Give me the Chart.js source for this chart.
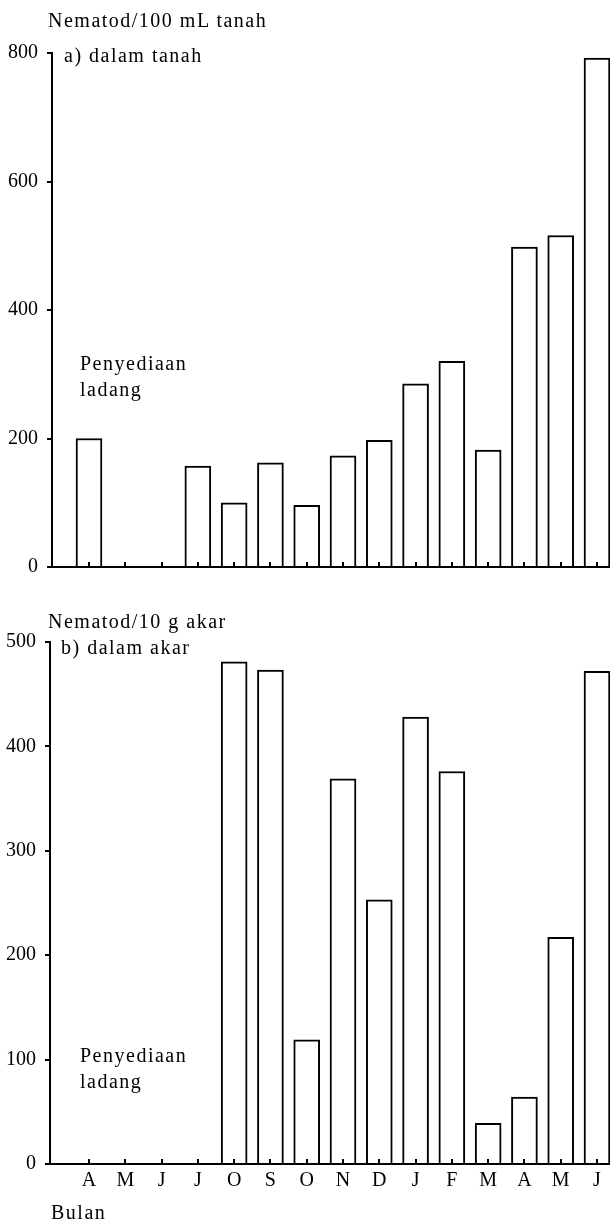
<!DOCTYPE html>
<html>
<head>
<meta charset="utf-8">
<script src="https://cdn.jsdelivr.net/npm/chart.js@4.4.1/dist/chart.umd.min.js"></script>
<style>
  body {
    margin: 0;
    width: 610px;
    height: 1226px;
    position: relative;
    overflow: hidden;
    background: #fff;
    color: #000;
    font-family: "Liberation Serif", "DejaVu Serif", serif;
  }
  .panel { position: absolute; left: 0; width: 610px; }
  .txt {
    position: absolute;
    white-space: nowrap;
    font-size: 20px;
    line-height: 1;
    letter-spacing: 1.5px;
  }
  .note { line-height: 26px; }
</style>
</head>
<body>
<div class="panel" style="top:0;height:600px"><canvas id="soilChart" width="610" height="600"></canvas></div>
<div class="panel" style="top:600px;height:626px"><canvas id="rootChart" width="610" height="626"></canvas></div>

<div class="txt" style="left:48px;top:10px">Nematod/100 mL tanah</div>
<div class="txt" style="left:64px;top:45px">a) dalam tanah</div>
<div class="txt note" style="left:80px;top:350px">Penyediaan<br>ladang</div>

<div class="txt" style="left:48px;top:611px">Nematod/10 g akar</div>
<div class="txt" style="left:61px;top:637px">b) dalam akar</div>
<div class="txt note" style="left:80px;top:1042px">Penyediaan<br>ladang</div>
<div class="txt" style="left:51px;top:1202px">Bulan</div>

<script>
"use strict";

// ? DATA
// ! ========================== ! \\
const months = ["A", "M", "J", "J", "O", "S", "O", "N", "D", "J", "F", "M", "A", "M", "J"];
const soilCounts = [200, null, null, 157, 100, 162, 96, 173, 197, 285, 320, 182, 498, 516, 792];
const rootCounts = [null, null, null, null, 481, 473, 119, 369, 253, 428, 376, 39, 64, 217, 472];
const soilTicks = [0, 200, 400, 600, 800];
const rootTicks = [0, 100, 200, 300, 400, 500];

const FONT = "'Liberation Serif', 'DejaVu Serif', serif";

// small tick marks pointing up into the plot, like the printed figure
const innerTicks = {
  id: "innerTicks",
  afterDraw: (chart) => {
    const { ctx, scales } = chart;
    const x = scales.x;
    ctx.save();
    ctx.strokeStyle = "#000";
    ctx.lineWidth = 2;
    x.ticks.forEach((t) => {
      const px = Math.round(x.getPixelForValue(t.value));
      ctx.beginPath();
      ctx.moveTo(px, x.top);
      ctx.lineTo(px, x.top - 5);
      ctx.stroke();
    });
    ctx.restore();
  },
};

// ? BUILD ONE PANEL
// ! ========================== ! \\
function makePanel(canvasId, values, yTicks, box) {
  const unit = 36.29; // px per month step
  const config = {
    type: "bar",
    data: {
      datasets: [
        {
          data: values.map((v, i) => ({ x: i, y: v })),
          backgroundColor: "#fff",
          borderColor: "#000",
          borderWidth: 2,
          borderSkipped: "bottom",
          barThickness: 26,
        },
      ],
    },
    options: {
      responsive: false,
      animation: false,
      layout: { padding: { top: box.top, left: 0, right: 0, bottom: 0 } },
      plugins: { legend: { display: false }, tooltip: { enabled: false } },
      scales: {
        x: {
          type: "linear",
          offset: false,
          min: -(box.firstTick - box.left) / unit,
          max: 14 + (610 - box.lastTick) / unit,
          afterBuildTicks: (s) => {
            s.ticks = months.map((m, i) => ({ value: i }));
          },
          afterFit: (s) => {
            s.height = box.canvasH - box.bottom;
          },
          grid: { display: true, drawOnChartArea: false, drawTicks: false },
          border: { color: "#000", width: 2 },
          ticks: {
            display: box.showLabels,
            autoSkip: false,
            maxRotation: 0,
            padding: 5,
            color: "#000",
            font: { family: FONT, size: 20 },
            callback: (v) => months[v],
          },
        },
        y: {
          min: yTicks[0],
          max: yTicks[yTicks.length - 1],
          afterBuildTicks: (s) => {
            s.ticks = yTicks.map((v) => ({ value: v }));
          },
          afterFit: (s) => {
            s.width = box.left;
          },
          grid: {
            drawOnChartArea: false,
            drawTicks: true,
            tickLength: 5,
            color: "#000",
            lineWidth: 2,
          },
          border: { color: "#000", width: 2 },
          ticks: {
            padding: 9,
            color: "#000",
            font: { family: FONT, size: 20 },
          },
        },
      },
    },
    plugins: [innerTicks],
  };
  const ctx = document.getElementById(canvasId).getContext("2d");
  return new Chart(ctx, config);
}

makePanel("soilChart", soilCounts, soilTicks, {
  top: 53, bottom: 567, left: 52, canvasH: 600, firstTick: 89, lastTick: 597, showLabels: false,
});
makePanel("rootChart", rootCounts, rootTicks, {
  top: 42, bottom: 564, left: 50, canvasH: 626, firstTick: 89, lastTick: 597, showLabels: true,
});
</script>
</body>
</html>
